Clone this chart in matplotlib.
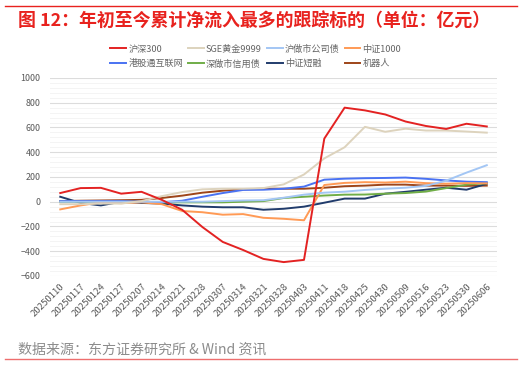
import numpy as np
import matplotlib
matplotlib.use("Agg")
import matplotlib.pyplot as plt
from matplotlib.lines import Line2D
from matplotlib.ticker import MultipleLocator

plt.rcParams['font.family'] = ['Noto Sans CJK SC', 'DejaVu Sans']

# 日期（周度）
dates = ['20250110', '20250117', '20250124', '20250127', '20250207', '20250214',
         '20250221', '20250228', '20250307', '20250314', '20250321', '20250328',
         '20250403', '20250411', '20250418', '20250425', '20250430', '20250509',
         '20250516', '20250523', '20250530', '20250606']

# 各标的累计净流入（亿元），读图估计
hs300 = [70, 110, 112, 65, 80, 15, -65, -205, -325, -390, -462, -488,
         -470, 510, 760, 738, 705, 648, 612, 588, 630, 608]
sge_gold = [-20, -20, -15, -15, 5, 45, 78, 100, 105, 105, 110, 140,
            220, 350, 440, 605, 565, 590, 575, 575, 567, 558]
hu_corp = [0, 0, 0, 0, 0, 0, 0, 0, 5, 10, 12, 32,
           57, 73, 81, 95, 105, 113, 128, 170, 235, 295]
zz1000 = [-62, -30, -5, -12, -5, -20, -75, -85, -105, -100, -130, -138,
          -150, 135, 152, 158, 155, 162, 150, 145, 150, 148]
hk_internet = [5, 5, 5, 5, 0, -5, 8, 40, 70, 95, 97, 105,
               122, 178, 186, 190, 192, 195, 185, 172, 162, 158]
sz_credit = [0, 0, 0, 0, -3, -5, -5, -5, -5, 0, 5, 30,
             40, 50, 57, 58, 65, 70, 82, 110, 138, 150]
zz_short = [40, -10, -30, 0, -10, -15, -30, -40, -45, -45, -65, -57,
            -40, -8, 25, 25, 65, 80, 97, 113, 97, 145]
robot = [5, 8, 10, 12, 15, 30, 49, 73, 89, 100, 105, 105,
         105, 113, 125, 130, 138, 138, 130, 130, 128, 130]

series = [
    ('沪深300', hs300, '#E32222'),
    ('SGE黄金9999', sge_gold, '#DDD3BD'),
    ('沪做市公司债', hu_corp, '#A3C6F4'),
    ('中证1000', zz1000, '#FF9A55'),
    ('港股通互联网', hk_internet, '#4A72F2'),
    ('深做市信用债', sz_credit, '#70AD47'),
    ('中证短融', zz_short, '#213C6C'),
    ('机器人', robot, '#9E4519'),
]

fig = plt.figure(figsize=(5.22, 3.66), dpi=100)
ax = fig.add_axes([0.096, 0.246, 0.856, 0.541])

x = np.arange(len(dates))
handles = {}
# 先画后面的，沪深300 画在最上层
for name, vals, color in reversed(series):
    h, = ax.plot(x, vals, color=color, lw=1.4, solid_joinstyle='round')
    handles[name] = h

ax.set_xlim(-0.5, len(dates) - 0.5)
ax.set_ylim(-600, 1000)
ax.yaxis.set_major_locator(MultipleLocator(200))
ax.yaxis.set_minor_locator(MultipleLocator(40))
ax.grid(axis='y', which='major', color='#DCDCDC', lw=0.8)
ax.grid(axis='y', which='minor', color='#F2F2F2', lw=0.6)
ax.set_axisbelow(True)
for s in ax.spines.values():
    s.set_visible(False)
ax.tick_params(axis='both', which='both', length=0, colors='#595959', labelsize=6.4)
ax.set_xticks(x)
ax.set_xticklabels(dates, rotation=45, ha='right', rotation_mode='anchor', fontsize=6.9)
ax.tick_params(axis='x', pad=4)
ax.tick_params(axis='y', pad=7)

# 图例：两行四列（按列填充，所以重排顺序）
names = [s[0] for s in series]
order = [0, 4, 1, 5, 2, 6, 3, 7]
leg = fig.legend([handles[names[i]] for i in order], [names[i] for i in order],
                 ncol=4, loc='center', frameon=False, fontsize=6.6,
                 handlelength=1.7, handletextpad=0.25, columnspacing=0.55,
                 labelspacing=0.6, labelcolor='#666666')
leg.set_bbox_to_anchor((0.49, 1 - 56.5 / 366), transform=fig.transFigure)

# 标题与来源
fig.text(0.034, 1 - 22 / 366, '图 12：年初至今累计净流入最多的跟踪标的（单位：亿元）',
         color='#E8221E', fontsize=12.9, fontweight='bold', va='center', ha='left')
fig.text(0.034, 1 - 350 / 366, '数据来源：东方证券研究所 & Wind 资讯',
         color='#8C8C8C', fontsize=10.1, va='center', ha='left')
fig.add_artist(Line2D([0.01, 0.99], [1 - 6 / 366, 1 - 6 / 366], color='#E8221E', lw=1.0))
fig.add_artist(Line2D([0.01, 0.99], [1 - 359 / 366, 1 - 359 / 366], color='#EE6E6E', lw=1.0))

fig.savefig('out.png', dpi=100)
